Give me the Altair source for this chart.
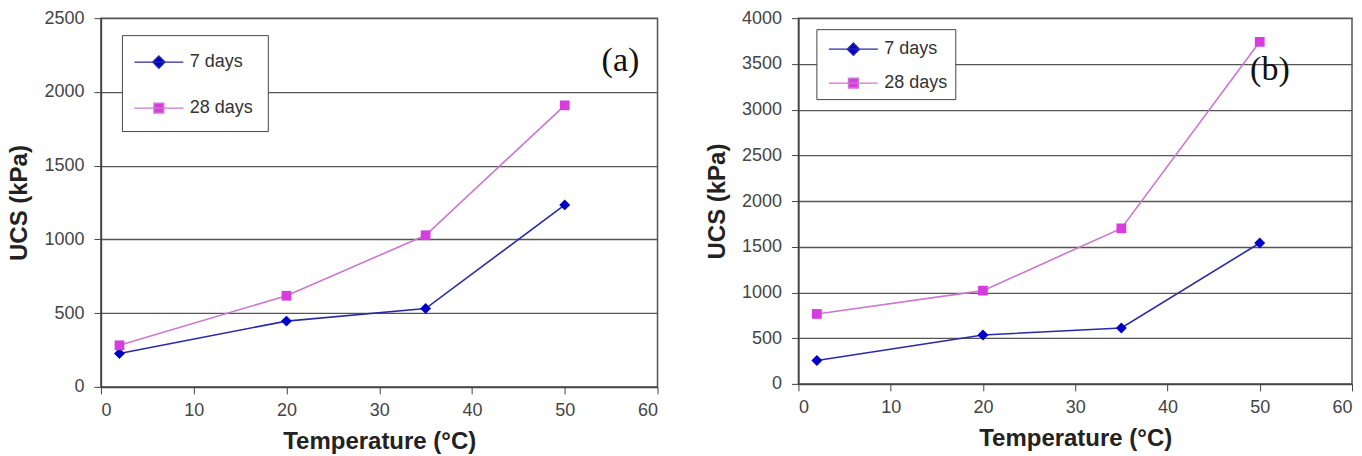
import altair as alt
import pandas as pd

# Curing temperature (°C) and unconfined compressive strength (kPa)
temps = [2, 20, 35, 50]
series_names = ["7 days", "28 days"]
a_7 = [226, 446, 531, 1234]
a_28 = [282, 618, 1028, 1909]
b_7 = [255, 535, 612, 1541]
b_28 = [765, 1020, 1701, 3741]

line_colors = ["#2a2aa8", "#cc77d0"]
marker_colors = ["#0000c8", "#d83ce0"]

FONT = "Liberation Sans"

# legend glyphs: a short line with the series marker in its middle
diamond_glyph = "M-2,0L2,0M0,-0.5L0.5,0L0,0.5L-0.5,0Z"
square_glyph = "M-2,0L2,0M-0.4,-0.4L0.4,-0.4L0.4,0.4L-0.4,0.4Z"


def frame(v7, v28):
    rows = []
    for t, v in zip(temps, v7):
        rows.append({"T": t, "UCS": v, "series": series_names[0]})
    for t, v in zip(temps, v28):
        rows.append({"T": t, "UCS": v, "series": series_names[1]})
    return pd.DataFrame(rows)


def panel(v7, v28, ymax, w, h, tag, tag_x, tag_y, lx, ly, pad, sym_off, row_pad):
    df = frame(v7, v28)
    x = alt.X("T:Q", title="Temperature (°C)",
              scale=alt.Scale(domain=[0, 60], nice=False),
              axis=alt.Axis(values=list(range(0, 61, 10)), grid=False))
    y = alt.Y("UCS:Q", title="UCS (kPa)",
              scale=alt.Scale(domain=[0, ymax], nice=False),
              axis=alt.Axis(values=list(range(0, ymax + 1, 500)), grid=True,
                            format="d"))
    legend = alt.Legend(
        title=None, orient="none", legendX=lx, legendY=ly,
        strokeColor="#444", fillColor="white", padding=pad,
        rowPadding=row_pad, symbolSize=600, symbolStrokeWidth=1.4,
        symbolOpacity=1, symbolOffset=sym_off,
        labelFont=FONT, labelFontSize=18, labelColor="#333", labelOffset=18,
    )
    layers = []
    for name, vals, lc, mc, shp, sz in [
        (series_names[0], v7, line_colors[0], marker_colors[0], "diamond", 120),
        (series_names[1], v28, line_colors[1], marker_colors[1], "square", 95),
    ]:
        sub = alt.Chart(df).transform_filter(alt.datum.series == name)
        layers.append(sub.mark_line(strokeWidth=1.6, color=lc).encode(x=x, y=y))
        layers.append(sub.mark_point(shape=shp, filled=True, size=sz, opacity=1,
                                     color=mc).encode(x="T:Q", y="UCS:Q"))
    # legend-only layer (no rows drawn)
    key = alt.Chart(df).transform_filter("false").mark_point(
        filled=True, opacity=1, strokeWidth=1.4
    ).encode(
        x="T:Q", y="UCS:Q",
        fill=alt.Fill("series:N", sort=series_names,
                      scale=alt.Scale(domain=series_names, range=marker_colors),
                      legend=legend),
        stroke=alt.Stroke("series:N", sort=series_names,
                          scale=alt.Scale(domain=series_names, range=line_colors),
                          legend=legend),
        shape=alt.Shape("series:N", sort=series_names,
                        scale=alt.Scale(domain=series_names,
                                        range=[diamond_glyph, square_glyph]),
                        legend=legend),
    )
    label = alt.Chart(pd.DataFrame({"T": [tag_x], "UCS": [tag_y], "txt": [tag]})).mark_text(
        font="Liberation Serif", fontSize=34, color="#111"
    ).encode(x="T:Q", y="UCS:Q", text="txt:N")
    return alt.layer(*layers, key, label).properties(width=w, height=h)


left = panel(a_7, a_28, 2500, 557, 369, "(a)", 56.0, 2209, 21, 17, 14, 10, 24)
right = panel(b_7, b_28, 4000, 554, 366, "(b)", 51.1, 3432, 18, 11, 7, 17, 12)

chart = alt.hconcat(left, right, spacing=45).resolve_scale(
    fill="independent", stroke="independent", shape="independent"
).configure(
    font=FONT,
).configure_view(
    stroke="#555", strokeWidth=1.5
).configure_axis(
    labelFont=FONT, labelFontSize=18, labelColor="#444",
    titleFont=FONT, titleFontSize=24, titleFontWeight="bold", titleColor="#222",
    domainColor="#444", domainWidth=1.5, tickColor="#444", tickSize=7,
    gridColor="#555", gridWidth=1.3, gridOpacity=1,
).configure_axisY(
    labelPadding=10, titlePadding=12
).configure_axisX(
    labelPadding=8, titlePadding=10
).properties(
    padding={"left": 7, "top": 8, "right": 8, "bottom": 2}
)

chart.save("out.html", embed_options={"renderer": "svg", "actions": False})
